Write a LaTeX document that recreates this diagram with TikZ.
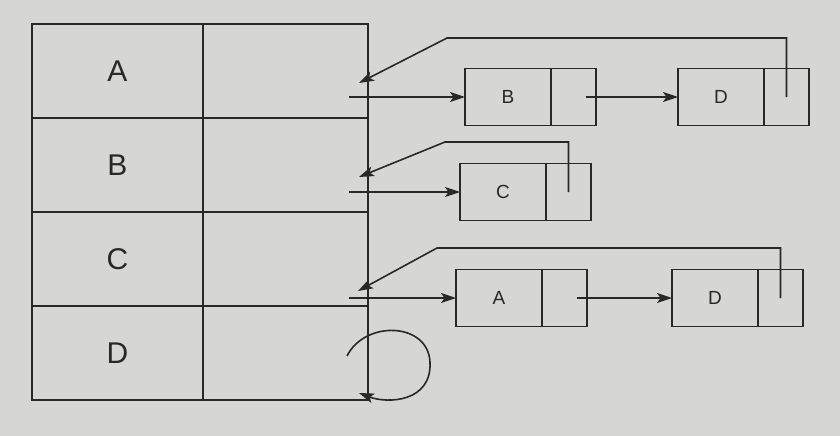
\documentclass[tikz,border=0pt]{standalone}
\usepackage{fontspec}
\setmainfont{Liberation Sans}
\usetikzlibrary{positioning,arrows.meta}
\definecolor{paper}{RGB}{214,214,211}
\definecolor{ink}{RGB}{40,40,40}

\begin{document}
\begin{tikzpicture}[x=1pt,y=-1pt,color=ink,>={Stealth[length=15pt,width=10pt,inset=3.5pt]}]
      \tikzstyle{vcell}=[draw,line width=1.6pt,outer sep=0pt,minimum width=171pt,minimum height=94pt,font=\fontsize{30}{36}\selectfont]
      \tikzstyle{hcell}=[draw,line width=1.6pt,outer sep=0pt,minimum width=165pt,minimum height=94pt]
      \tikzstyle{datacell}=[draw,line width=1.6pt,outer sep=0pt,minimum width=86pt,minimum height=57pt,font=\fontsize{19}{23}\selectfont]
      \tikzstyle{ptrcell}=[draw,line width=1.6pt,outer sep=0pt,minimum width=45pt,minimum height=57pt]
      \tikzstyle{link}=[->,line width=1.6pt]
      % Page
      \useasboundingbox (0,0) rectangle (840,436);
      \fill[paper] (0,0) rectangle (840,436);
      % Head table
      \foreach \v/\y in {A/71,B/165,C/259,D/353} {
        \node (v\v) [vcell] at (117.5,\y) {\v};
        \node (h\v) [hcell,right=0pt of v\v] {};
      }
      % Lists
      \node (b1) [datacell] at (508,97) {B};
      \node (b1p) [ptrcell,right=0pt of b1] {};
      \node (d1) [datacell,right=82pt of b1p] {D};
      \node (d1p) [ptrcell,right=0pt of d1] {};
      \node (c2) [datacell] at (503,192) {C};
      \node (c2p) [ptrcell,right=0pt of c2] {};
      \node (a3) [datacell] at (499,298) {A};
      \node (a3p) [ptrcell,right=0pt of a3] {};
      \node (d3) [datacell,right=85pt of a3p] {D};
      \node (d3p) [ptrcell,right=0pt of d3] {};
      % Where the pointers leave the table
      \coordinate (ptrA) at (349,97);
      \coordinate (ptrB) at (349,192);
      \coordinate (ptrC) at (349,298);
      \draw[link] (ptrA) -- (b1.west);
      \draw[link] (ptrB) -- (c2.west);
      \draw[link] (ptrC) -- (a3.west);
      \draw[link] ([xshift=12pt]b1p.center) -- (d1.west);
      \draw[link] ([xshift=12pt]a3p.center) -- (d3.west);
      % Back to the table
      \coordinate (tipA) at (359,83);
      \coordinate (tipB) at (359,177);
      \coordinate (tipC) at (358,291);
      \draw[link] (d1p.center) |- (447,38) -- (tipA);
      \draw[link] (c2p.center) |- (445,142) -- (tipB);
      \draw[link] (d3p.center) |- (437,248) -- (tipC);
      % Loop on D
      \coordinate (loopout) at (347,356);
      \coordinate (loopin) at (359,393);
      \draw[link] (loopout) .. controls (365,320) and (428,322) .. (430,362)
        .. controls (432,402) and (388,404) .. (loopin);
\end{tikzpicture}
\end{document}
